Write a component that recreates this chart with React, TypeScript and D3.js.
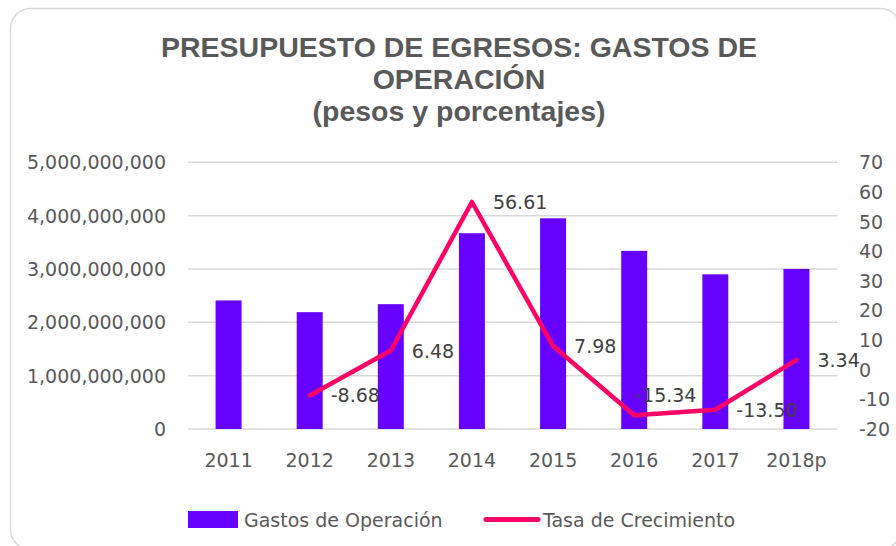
import React from "react";
import * as d3 from "d3";

const categories = ["2011", "2012", "2013", "2014", "2015", "2016", "2017", "2018p"];
const gastos = [2.41e9, 2.19e9, 2.34e9, 3.67e9, 3.95e9, 3.34e9, 2.9e9, 3.0e9];
const tasa: (number | null)[] = [null, -8.68, 6.48, 56.61, 7.98, -15.34, -13.5, 3.34];
const labelPlacement = ["right", "right", "right", "right", "right", "upper", "right", "right"];
const leftTicks = [0, 1e9, 2e9, 3e9, 4e9, 5e9];
const rightTicks = [-20, -10, 0, 10, 20, 30, 40, 50, 60, 70];
const titleLines = ["PRESUPUESTO DE EGRESOS: GASTOS DE", "OPERACIÓN", "(pesos y porcentajes)"];
const legendItems = ["Gastos de Operación", "Tasa de Crecimiento"];

const W = 896;
const H = 546;
const plotLeft = 188;
const plotRight = 837;
const plotTop = 162.3;
const plotBottom = 429;

const BAR = "#6600FF";
const LINE = "#FF0066";
const AXIS_TXT = "#595959";
const LABEL_TXT = "#404040";
const GRID = "#D9D9D9";
const FONT = "'DejaVu Sans', sans-serif";

export default function App() {
  const x = d3.scaleBand<string>().domain(categories).range([plotLeft, plotRight]).paddingInner(0.68).paddingOuter(0.34);
  const yL = d3.scaleLinear().domain([0, 5e9]).range([plotBottom, plotTop]);
  const yR = d3.scaleLinear().domain([-20, 70]).range([plotBottom, plotTop]);
  const fmt = d3.format(",");
  const cx = (c: string) => (x(c) as number) + x.bandwidth() / 2;

  const pts = categories
    .map((c, i) => ({ c, v: tasa[i], p: labelPlacement[i] }))
    .filter((d) => d.v !== null) as { c: string; v: number; p: string }[];
  const line = d3
    .line<{ c: string; v: number }>()
    .x((d) => cx(d.c))
    .y((d) => yR(d.v));

  return (
    <svg width={W} height={H} style={{ position: "absolute", left: 0, top: 0, background: "#fff" }}>
      <rect x={10.5} y={8.5} width={890} height={541} rx={20} ry={20} fill="#fff" stroke={GRID} strokeWidth={1.5} />
      <g fontFamily="'Liberation Sans', Arial, sans-serif" fontWeight="bold" fill={AXIS_TXT} textAnchor="middle">
        <text x={459} y={57} fontSize={28.5}>{titleLines[0]}</text>
        <text x={459} y={89} fontSize={28.5}>{titleLines[1]}</text>
        <text x={459} y={121} fontSize={28.5}>{titleLines[2]}</text>
      </g>
      {leftTicks.map((t) => (
        <line key={"g" + t} x1={plotLeft} x2={plotRight} y1={yL(t)} y2={yL(t)} stroke={GRID} strokeWidth={1.5} />
      ))}
      <g fontFamily={FONT} fontSize={19} fill={AXIS_TXT}>
        {leftTicks.map((t) => (
          <text key={"l" + t} x={166} y={yL(t)} textAnchor="end" dominantBaseline="central">
            {fmt(t)}
          </text>
        ))}
        {rightTicks.map((t) => (
          <text key={"r" + t} x={859} y={yR(t)} textAnchor="start" dominantBaseline="central">
            {t}
          </text>
        ))}
        {categories.map((c) => (
          <text key={"x" + c} x={cx(c)} y={460} textAnchor="middle" dominantBaseline="central">
            {c}
          </text>
        ))}
      </g>
      {categories.map((c, i) => (
        <rect key={"b" + c} x={x(c)} y={yL(gastos[i])} width={x.bandwidth()} height={plotBottom - yL(gastos[i])} fill={BAR} />
      ))}
      <path d={line(pts) || ""} fill="none" stroke={LINE} strokeWidth={4.5} strokeLinejoin="round" strokeLinecap="round" />
      <g fontFamily={FONT} fontSize={19} fill={LABEL_TXT}>
        {pts.map((d) => {
          const px = cx(d.c);
          const py = yR(d.v);
          const lx = d.p === "upper" ? px + 1 : px + 21;
          const ly = d.p === "upper" ? py - 20 : py;
          return (
            <text key={"t" + d.c} x={lx} y={ly} dominantBaseline="central">
              {d.v.toFixed(2)}
            </text>
          );
        })}
      </g>
      <g fontFamily={FONT} fontSize={19} fill={AXIS_TXT}>
        <rect x={188} y={511} width={50} height={17} fill={BAR} />
        <text x={244} y={520} dominantBaseline="central">{legendItems[0]}</text>
        <line x1={486} x2={538} y1={519.5} y2={519.5} stroke={LINE} strokeWidth={5} strokeLinecap="round" />
        <text x={543} y={520} dominantBaseline="central">{legendItems[1]}</text>
      </g>
    </svg>
  );
}
